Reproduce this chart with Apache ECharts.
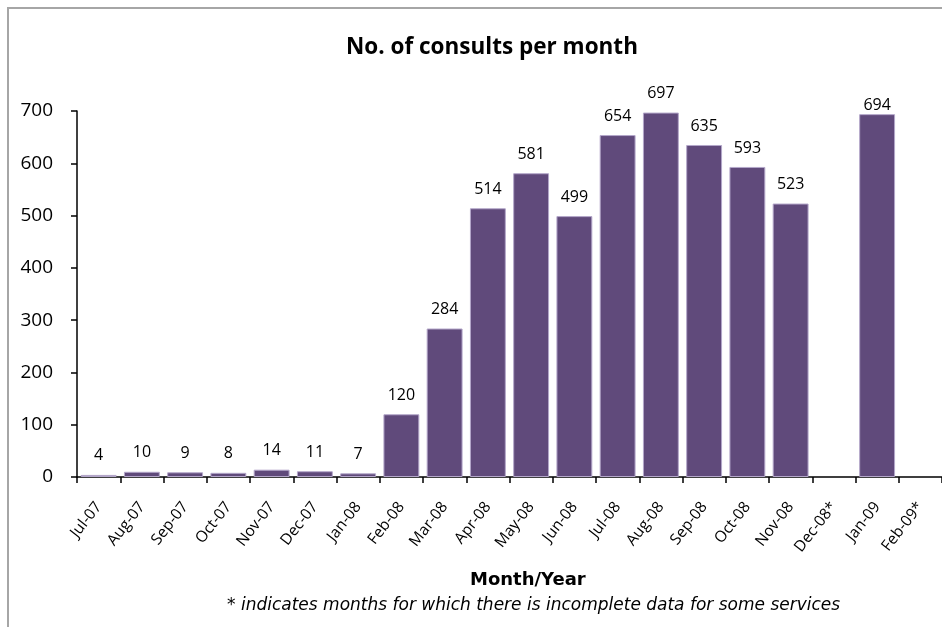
<!DOCTYPE html>
<html><head><meta charset="utf-8">
<script src="https://cdn.jsdelivr.net/npm/echarts@6/dist/echarts.min.js"></script>
<style>html,body{margin:0;padding:0;background:#fff}#c{width:942px;height:627px}</style>
</head><body><div id="c"></div>
<script>
const categories = ['Jul-07','Aug-07','Sep-07','Oct-07','Nov-07','Dec-07','Jan-08','Feb-08','Mar-08','Apr-08','May-08','Jun-08','Jul-08','Aug-08','Sep-08','Oct-08','Nov-08','Dec-08*','Jan-09','Feb-09*'];
const consults = [4,10,9,8,14,11,7,120,284,514,581,499,654,697,635,593,523,null,694,null];
const yTicks = [0,100,200,300,400,500,600,700];

const barData = consults.map((v, i) => categories[i] === 'Jan-09' ? {value:v, label:{distance:1}} : v);

const chart = echarts.init(document.getElementById('c'), null, {renderer:'canvas'});
chart.setOption({
  animation:false,
  backgroundColor:'#fff',
  title:{text:'No. of consults per month', left:487, top:31, textAlign:'center',
    textStyle:{fontFamily:'"Open Sans", Lato, sans-serif', fontWeight:'bold', fontSize:22.5, color:'#000'}},
  graphic:[
    {type:'rect', shape:{x:8,y:8,width:1000,height:1000}, style:{fill:null, stroke:'#A6A6A6', lineWidth:2}, silent:true},
    {type:'text', left:470, top:571, style:{text:'Month/Year', font:'bold 18px "DejaVu Sans", sans-serif', fill:'#000'}},
    {type:'text', left:227, top:597, style:{text:'* indicates months for which there is incomplete data for some services', font:'oblique 17px "DejaVu Sans", sans-serif', fill:'#000'}}
  ],
  grid:{left:77, top:111, width:868, height:366, containLabel:false},
  xAxis:{type:'category', data:categories, boundaryGap:true,
    axisLine:{lineStyle:{color:'#000', width:1.5}},
    axisTick:{show:true, alignWithLabel:false, length:6, lineStyle:{color:'#000', width:1.5}},
    axisLabel:{rotate:52, interval:0, margin:27, fontSize:15.5, color:'#000', fontFamily:'"Open Sans", sans-serif'}},
  yAxis:{type:'value', min:yTicks[0], max:yTicks[yTicks.length-1], interval:100,
    splitLine:{show:false},
    axisLine:{show:true, lineStyle:{color:'#000', width:1.5}},
    axisTick:{show:true, inside:false, length:6, lineStyle:{color:'#000', width:1.5}},
    axisLabel:{margin:24, fontSize:19, color:'#000', fontFamily:'"Open Sans", sans-serif'}},
  series:[{type:'bar', data:barData, barCategoryGap:'17%',
    itemStyle:{color:'#604A7B', borderColor:'#B4A7CA', borderWidth:1},
    label:{show:true, position:'top', distance:11, fontSize:16, color:'#000', fontFamily:'"Open Sans", sans-serif'}}]
});
</script></body></html>
